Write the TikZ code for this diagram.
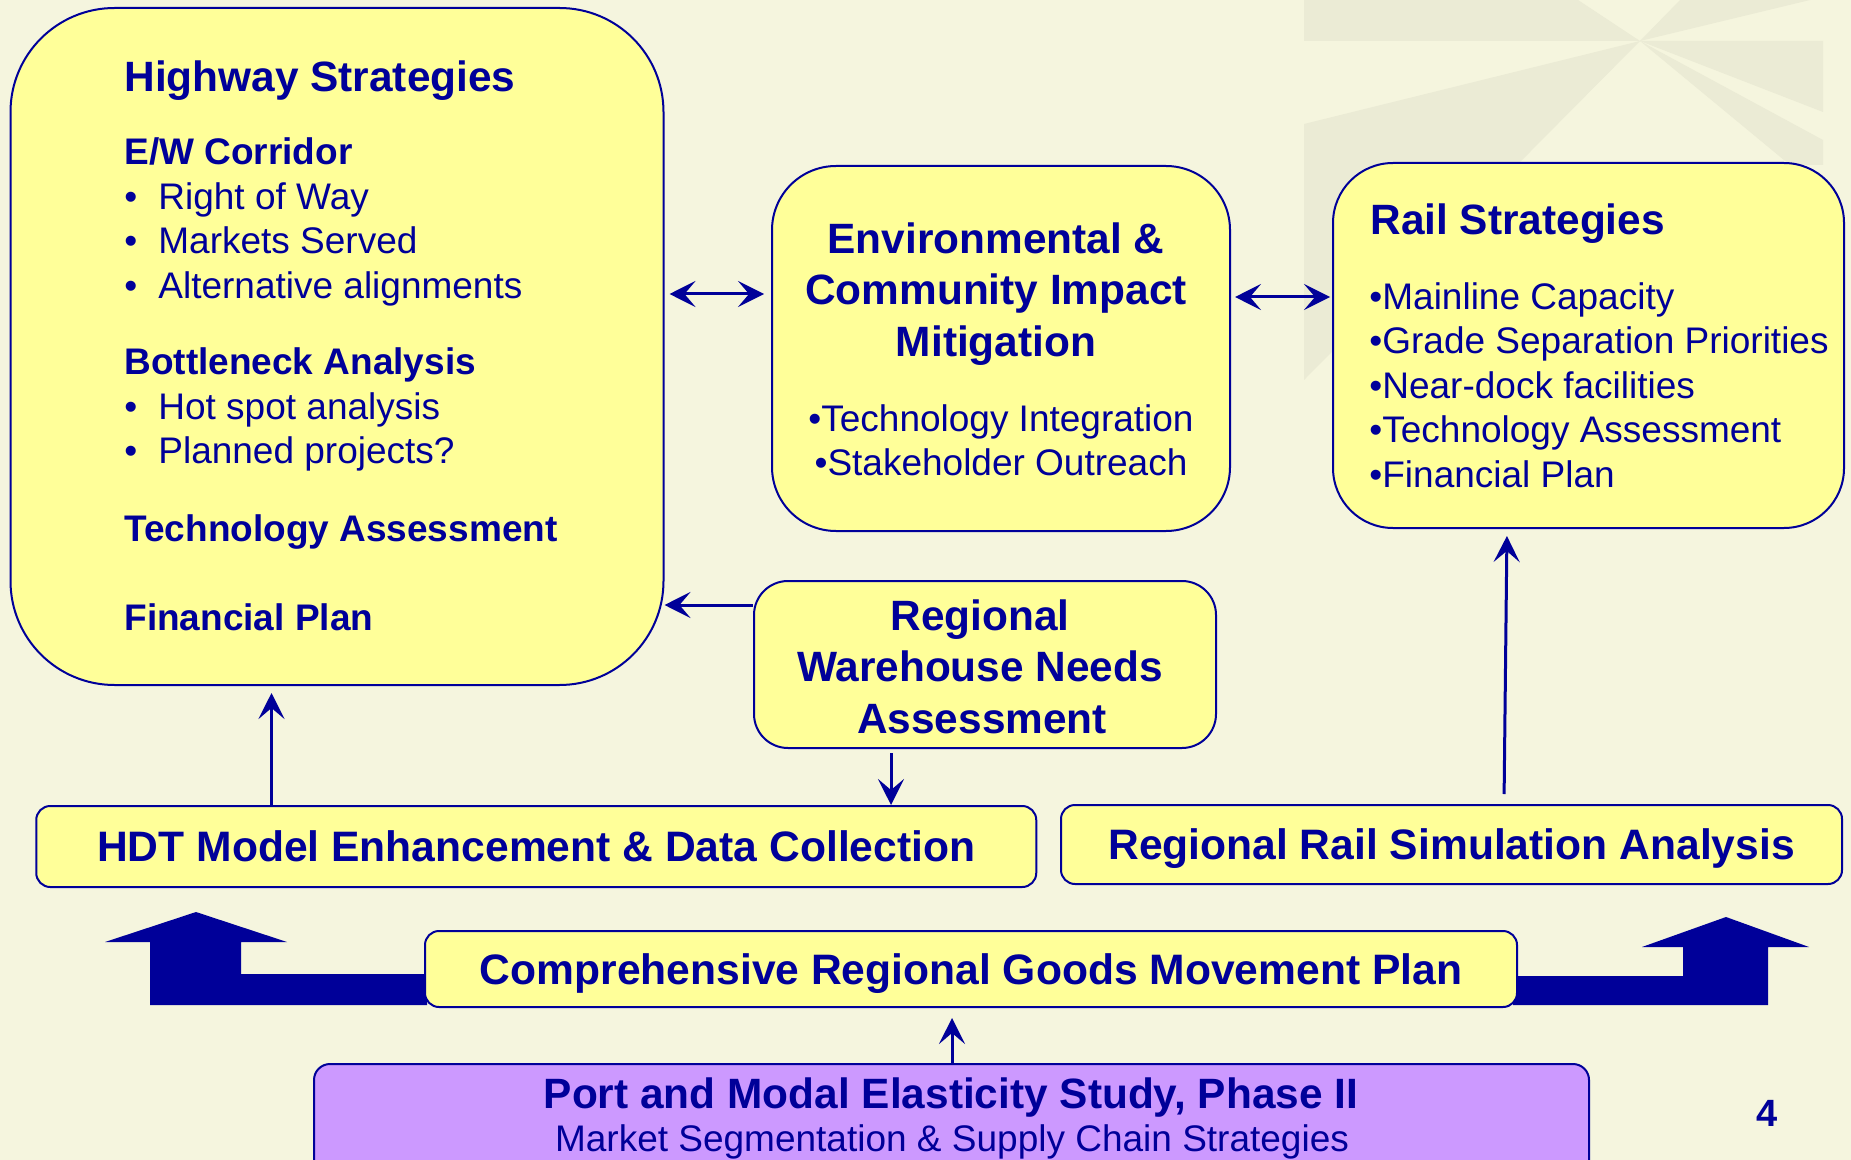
\documentclass[tikz,border=0pt]{standalone}
\usepackage{fontspec}
\setmainfont{Liberation Sans}
\usetikzlibrary{arrows.meta}

\definecolor{pagebg}{RGB}{245,245,222}
\definecolor{fadebg}{RGB}{235,235,213}
\definecolor{boxyellow}{RGB}{255,255,153}
\definecolor{navy}{RGB}{0,0,153}
\definecolor{lilac}{RGB}{204,153,255}

\begin{document}
\begin{tikzpicture}[x=0.5pt,y=-0.5pt,>={Stealth[length=13pt,width=13pt,inset=5.5pt]}]
\tikzstyle{panel}=[draw=navy, fill=boxyellow, line width=1pt, inner sep=0pt]
\tikzstyle{bar}=[panel, rounded corners=7pt, text=navy, font=\bfseries\fontsize{21.3}{25}\selectfont, text height=15.2pt, text depth=0pt]
\tikzstyle{head}=[text=navy, inner sep=0pt, font=\bfseries\fontsize{21.2}{25}\selectfont]
\tikzstyle{sub}=[text=navy, inner sep=0pt, font=\bfseries\fontsize{18.5}{22}\selectfont]
\tikzstyle{item}=[text=navy, inner sep=0pt, font=\fontsize{18.5}{22}\selectfont]
\tikzstyle{link}=[draw=navy, line width=1.5pt]

\useasboundingbox (0,0) rectangle (1851,1160);
\clip (0,0) rectangle (1851,1160);
\fill[pagebg] (0,0) rectangle (1851,1160);

% faded logo, top right
\coordinate (hub) at (1640,41);
\fill[fadebg] (1304,0) -- (1578,0) -- (hub) -- (1304,41) -- cycle;
\fill[fadebg] (hub) -- (1680,0) -- (1810,0) -- cycle;
\fill[fadebg] (hub) -- (1823,41) -- (1823,112) -- cycle;
\fill[fadebg] (hub) -- (1823,140) -- (1823,165) -- (1790,165) -- cycle;
\fill[fadebg] (hub) -- (1304,124) -- (1304,380) -- cycle;

% block arrows behind the plan
\fill[navy] (196,912) -- (287,942) -- (241,942) -- (241,974) -- (427,974) -- (427,1005)
  -- (150,1005) -- (150,942) -- (105,942) -- cycle;
\fill[navy] (1726,917) -- (1809,947) -- (1768,947) -- (1768,1005) -- (1513,1005)
  -- (1513,976) -- (1683,976) -- (1683,947) -- (1642,947) -- cycle;

% boxes
\node[panel, rounded corners=52pt, minimum width=326.5pt, minimum height=338.5pt] (hwy) at (337,346.5) {};
\node[panel, rounded corners=32pt, minimum width=229pt, minimum height=182.5pt] (env) at (1001,348.5) {};
\node[panel, rounded corners=30pt, minimum width=255.5pt, minimum height=182.5pt] (rail) at (1588.5,345.5) {};
\node[panel, rounded corners=17pt, minimum width=231pt, minimum height=83.5pt] (wh) at (985,664.5) {};
\node[bar, minimum width=500pt, minimum height=40.5pt] (hdt) at (536.25,846.5) {HDT Model Enhancement \& Data Collection};
\node[bar, minimum width=390.5pt, minimum height=39.5pt] (railsim) at (1451.5,844.5) {Regional Rail Simulation Analysis\hspace{6pt}};
\node[bar, minimum width=546pt, minimum height=38pt] (plan) at (971,969) {Comprehensive Regional Goods Movement Plan\hspace{6pt}};
\node[panel, fill=lilac, rounded corners=8pt, minimum width=637.5pt, minimum height=58pt] (study) at (951.5,1122) {};

% highway strategies
\node[head, anchor=base west] (hwtitle) at (124,91.5) {Highway Strategies};
\node[sub, anchor=base west] (ewhead) at (124,165) {E/W Corridor};
\foreach \txt [count=\i] in {Right of Way, Markets Served, Alternative alignments}
  \node[item, anchor=base west] (ew\i) at (124,165+44.4*\i) {\makebox[17pt][l]{\textbullet}\txt};
\node[sub, anchor=base west] (bnhead) at (124,375) {Bottleneck Analysis};
\foreach \txt [count=\i] in {Hot spot analysis, Planned projects?}
  \node[item, anchor=base west] (bn\i) at (124,375+44.4*\i) {\makebox[17pt][l]{\textbullet}\txt};
\node[sub, anchor=base west] (techhead) at (124,541) {Technology Assessment};
\node[sub, anchor=base west] (finhead) at (124,630) {Financial Plan};

% environmental box
\node[head, anchor=base] (env1) at (996,253.5) {Environmental \&};
\node[head, anchor=base] (env2) at (996,305) {Community Impact};
\node[head, anchor=base] (env3) at (996,356.7) {Mitigation};
\node[item, anchor=base] (env4) at (1001,431) {\textbullet Technology Integration};
\node[item, anchor=base] (env5) at (1001,475) {\textbullet Stakeholder Outreach};

% rail strategies
\node[head, anchor=base west] (railtitle) at (1370,235) {Rail Strategies};
\foreach \txt [count=\i] in {Mainline Capacity, Grade Separation Priorities, Near-dock facilities, Technology Assessment, Financial Plan}
  \node[item, anchor=base west] (rl\i) at (1369,265.1+44.4*\i) {\textbullet\txt};

% warehouse box
\node[head, anchor=base] (wh1) at (980,630) {Regional};
\node[head, anchor=base] (wh2) at (980,681) {Warehouse Needs};
\node[head, anchor=base] (wh3) at (982,733) {Assessment};

% elasticity study
\node[head, anchor=base] (studytitle) at (951,1108) {Port and Modal Elasticity Study, Phase II};
\node[item, anchor=base] (studysub) at (952,1151.7) {Market Segmentation \& Supply Chain Strategies};

\node[text=navy, inner sep=0pt, font=\bfseries\fontsize{19}{22}\selectfont, anchor=base] (pagenum) at (1767,1126) {4};

% connectors
\draw[link,<->,shorten <=2.5pt,shorten >=3.5pt] (hwy.east |- 0,294) -- (env.west |- 0,294);
\draw[link,<->,shorten <=2pt,shorten >=1pt] (env.east |- 0,297) -- (rail.west |- 0,297);
\draw[link,->] (wh.west |- 0,605) -- (hwy.east |- 0,605);
\draw[link,->,shorten <=2pt] (wh.south -| 891,0) -- (hdt.north -| 891,0);
\draw[link,->,shorten >=3.5pt] (hdt.north -| 271.5,0) -- (hwy.south -| 271.5,0);
\draw[link,->,shorten <=5pt,shorten >=3.5pt] (railsim.north -| 1504,0) -- (rail.south -| 1507,0);
\draw[link,->,shorten >=5pt] (study.north -| 952,0) -- (plan.south -| 952,0);
\end{tikzpicture}
\end{document}
